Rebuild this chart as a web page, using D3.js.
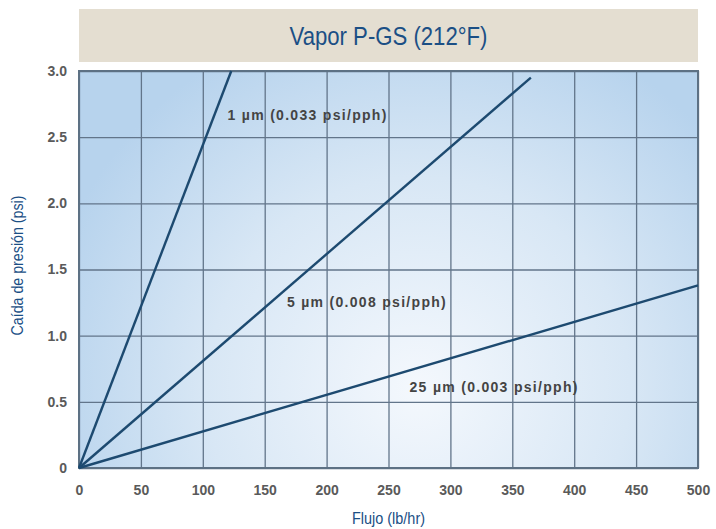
<!DOCTYPE html>
<html>
<head>
<meta charset="utf-8">
<script src="https://cdn.jsdelivr.net/npm/d3@7"></script>
<style>
  body { margin: 0; background: #fff; }
  text { font-family: "Liberation Sans", Arial, sans-serif; }
</style>
</head>
<body>
<svg id="chart"></svg>
<script>
const WIDTH = 716;
const HEIGHT = 529;
const margin = { top: 71, right: 18, bottom: 61, left: 79 };

// ticks
const xTicks = [0, 50, 100, 150, 200, 250, 300, 350, 400, 450, 500];
const yTicks = [0, 0.5, 1.0, 1.5, 2.0, 2.5, 3.0];
const yTickLabels = ["0", "0.5", "1.0", "1.5", "2.0", "2.5", "3.0"];

// series (flow lb/hr, pressure drop psi)
const series1 = [[0, 0], [123, 3.0]];
const series5 = [[0, 0], [365, 2.95]];
const series25 = [[0, 0], [500, 1.38]];
const seriesLabels = ["1 µm (0.033 psi/pph)", "5 µm (0.008 psi/pph)", "25 µm (0.003 psi/pph)"];
// label anchor points (data coords)
const labelAnchors = [[120, 2.63], [168, 1.22], [267, 0.575]];

const innerW = WIDTH - margin.left - margin.right;
const innerH = HEIGHT - margin.top - margin.bottom;

const x = d3.scaleLinear([0, 500], [0, innerW]);
const y = d3.scaleLinear([0, 3], [innerH, 0]);

const svg = d3.select("#chart").attr("width", WIDTH).attr("height", HEIGHT);

// title box
svg.append("rect")
  .attr("x", margin.left).attr("y", 9)
  .attr("width", innerW).attr("height", 53)
  .attr("fill", "#e4ded1");
svg.append("text")
  .attr("x", margin.left + innerW / 2).attr("y", 45)
  .attr("text-anchor", "middle")
  .attr("font-size", 26)
  .attr("textLength", 198)
  .attr("lengthAdjust", "spacingAndGlyphs")
  .attr("fill", "#1b4f85")
  .text("Vapor P-GS (212°F)");

const defs = svg.append("defs");
const grad = defs.append("radialGradient")
  .attr("id", "bg")
  .attr("gradientUnits", "userSpaceOnUse")
  .attr("cx", margin.left + innerW * 0.42).attr("cy", margin.top + innerH * 0.62)
  .attr("r", innerW * 0.62);
grad.append("stop").attr("offset", "0%").attr("stop-color", "#f4f8fd");
grad.append("stop").attr("offset", "55%").attr("stop-color", "#d8e7f5");
grad.append("stop").attr("offset", "100%").attr("stop-color", "#b7d3ed");

const g = svg.append("g").attr("transform", `translate(${margin.left},${margin.top})`);

g.append("rect")
  .attr("width", innerW).attr("height", innerH)
  .attr("fill", "url(#bg)");

// grid
g.append("g")
  .attr("transform", `translate(0,${innerH})`)
  .call(d3.axisBottom(x).tickValues(xTicks).tickSize(-innerH).tickFormat(""))
  .call(a => a.select(".domain").remove())
  .call(a => a.selectAll("line").attr("stroke", "#62758a").attr("stroke-width", 1.3));
g.append("g")
  .call(d3.axisLeft(y).tickValues(yTicks).tickSize(-innerW).tickFormat(""))
  .call(a => a.select(".domain").remove())
  .call(a => a.selectAll("line").attr("stroke", "#62758a").attr("stroke-width", 1.3));

g.append("rect")
  .attr("width", innerW).attr("height", innerH)
  .attr("fill", "none").attr("stroke", "#5d7184").attr("stroke-width", 2);

// tick labels
g.append("g")
  .attr("transform", `translate(0,${innerH})`)
  .call(d3.axisBottom(x).tickValues(xTicks).tickSize(0).tickPadding(17))
  .call(a => a.select(".domain").remove())
  .call(a => a.selectAll("text")
    .attr("font-size", 14).attr("fill", "#5a5a5a").attr("font-weight", "bold")
    .style("font-family", "'Liberation Sans', sans-serif"));
g.append("g")
  .call(d3.axisLeft(y).tickValues(yTicks).tickSize(0).tickPadding(12)
    .tickFormat((d, i) => yTickLabels[i]))
  .call(a => a.select(".domain").remove())
  .call(a => a.selectAll("text")
    .attr("font-size", 14).attr("fill", "#5a5a5a").attr("font-weight", "bold")
    .style("font-family", "'Liberation Sans', sans-serif"));

// lines
const line = d3.line().x(d => x(d[0])).y(d => y(d[1]));
[series1, series5, series25].forEach(s => {
  g.append("path")
    .datum(s)
    .attr("d", line)
    .attr("fill", "none")
    .attr("stroke", "#1d4a70")
    .attr("stroke-width", 2.4);
});

// line labels
seriesLabels.forEach((t, i) => {
  g.append("text")
    .attr("x", x(labelAnchors[i][0]))
    .attr("y", y(labelAnchors[i][1]))
    .attr("font-size", 14)
    .attr("font-weight", "bold")
    .attr("letter-spacing", 1.3)
    .attr("fill", "#444")
    .text(t);
});

// axis titles
svg.append("text")
  .attr("x", margin.left + innerW / 2).attr("y", 524)
  .attr("text-anchor", "middle")
  .attr("font-size", 17)
  .attr("textLength", 73)
  .attr("lengthAdjust", "spacingAndGlyphs")
  .attr("fill", "#1b4f85")
  .text("Flujo (lb/hr)");
svg.append("text")
  .attr("transform", `translate(23,${margin.top + innerH / 2 - 4}) rotate(-90)`)
  .attr("text-anchor", "middle")
  .attr("font-size", 17)
  .attr("textLength", 140)
  .attr("lengthAdjust", "spacingAndGlyphs")
  .attr("fill", "#1b4f85")
  .text("Caída de presión (psi)");
</script>
</body>
</html>
